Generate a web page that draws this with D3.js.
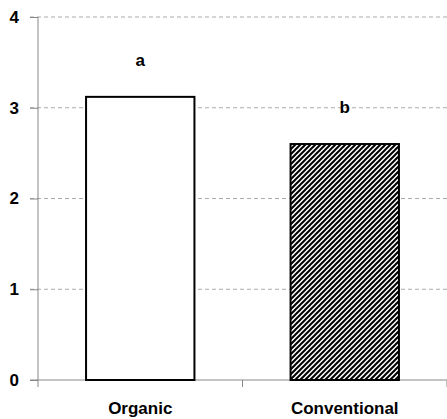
<!DOCTYPE html>
<html><head><meta charset="utf-8">
<script src="https://cdn.jsdelivr.net/npm/d3@7"></script>
<style>html,body{margin:0;padding:0;background:#fff;}svg{display:block;}</style>
</head><body>
<svg id="chart" width="447" height="419"></svg>
<script>
const categories = ["Organic", "Conventional"];
const values = [3.12, 2.60];
const letters = ["a", "b"];
const yTicks = [0, 1, 2, 3, 4];

(function () {
const svg = d3.select("#chart");
const mLeft = 38, mRight = 447, mTop = 17, mBottom = 380;
const font = "'Liberation Sans', Arial, sans-serif";

const x = d3.scaleBand().domain(categories).range([mLeft, mRight]).paddingInner(0).paddingOuter(0);
const y = d3.scaleLinear().domain([0, 4]).range([mBottom, mTop]);
const barW = x.bandwidth() * 0.53;

const defs = svg.append("defs");
const pat = defs.append("pattern").attr("id", "hatch").attr("patternUnits", "userSpaceOnUse")
  .attr("width", 5).attr("height", 5);
pat.append("rect").attr("width", 5).attr("height", 5).attr("fill", "#fff");
pat.append("path").attr("d", "M-1,1 L1,-1 M0,5 L5,0 M4,6 L6,4")
  .attr("stroke", "#000").attr("stroke-width", 2);

// gridlines
svg.append("g").selectAll("line").data(yTicks.filter(d => d > 0)).join("line")
  .attr("x1", mLeft - 8).attr("x2", mRight)
  .attr("y1", d => y(d)).attr("y2", d => y(d))
  .attr("stroke", "#aaa").attr("stroke-width", 1).attr("stroke-dasharray", "4,3");

// y axis
const yAxis = svg.append("g").attr("transform", `translate(${mLeft},0)`)
  .call(d3.axisLeft(y).tickValues(yTicks).tickFormat(d3.format("d")).tickSize(8).tickPadding(11));
yAxis.select(".domain").attr("stroke", "#888").attr("d", `M0,${mTop}V${mBottom}`);
yAxis.selectAll(".tick line").attr("stroke", "#888");
yAxis.selectAll(".tick text").attr("font-family", font).attr("font-weight", "bold")
  .attr("font-size", 17).attr("fill", "#000");

// x axis
svg.append("line").attr("x1", mLeft - 8).attr("x2", mRight).attr("y1", mBottom).attr("y2", mBottom)
  .attr("stroke", "#888");
const boundaries = [mLeft, ...categories.slice(1).map(c => x(c)), mRight];
svg.append("g").selectAll("line").data(boundaries).join("line")
  .attr("x1", d => d).attr("x2", d => d).attr("y1", mBottom).attr("y2", mBottom + 7)
  .attr("stroke", "#888");
svg.append("g").selectAll("text").data(categories).join("text")
  .attr("x", d => x(d) + x.bandwidth() / 2).attr("y", 414)
  .attr("text-anchor", "middle").attr("font-family", font).attr("font-weight", "bold")
  .attr("font-size", 17).text(d => d);

// bars
svg.append("g").selectAll("rect").data(categories).join("rect")
  .attr("x", d => x(d) + (x.bandwidth() - barW) / 2)
  .attr("y", (d, i) => y(values[i]))
  .attr("width", barW)
  .attr("height", (d, i) => y(0) - y(values[i]))
  .attr("fill", (d, i) => i === 0 ? "#fff" : "url(#hatch)")
  .attr("stroke", "#000").attr("stroke-width", 2);

// letters
svg.append("g").selectAll("text").data(categories).join("text")
  .attr("x", d => x(d) + x.bandwidth() / 2)
  .attr("y", (d, i) => y(values[i]) - 31)
  .attr("text-anchor", "middle").attr("font-family", font).attr("font-weight", "bold")
  .attr("font-size", 17).text((d, i) => letters[i]);
})();
</script>
</body></html>
